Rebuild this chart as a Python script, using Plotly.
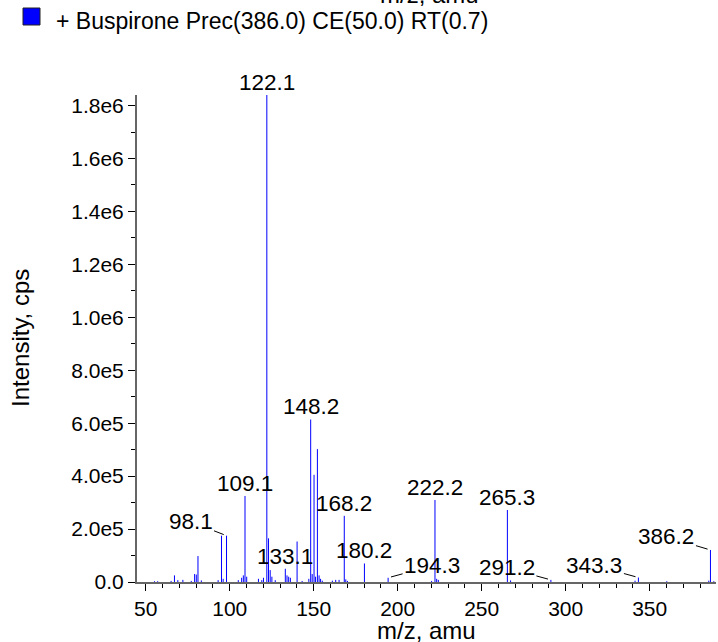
import plotly.graph_objects as go

# ---- data ----
mz = [55.2, 57.1, 65.1, 67.1, 69.1, 72.1, 77.1, 79.1, 80.1, 81.1, 83.1, 93.1,
      95.1, 96.1, 98.1, 105.1, 107.1, 108.1, 109.1, 110.1, 117.1, 119.1, 120.1,
      122.1, 123.1, 124.1, 125.1, 127.1, 133.1, 134.1, 135.1, 136.1, 140.1,
      143.1, 147.1, 148.2, 149.1, 150.2, 151.1, 152.2, 153.2, 154.1, 155.1,
      161.1, 163.1, 165.1, 168.2, 169.1, 170.1, 180.2, 194.3, 220.2, 222.2,
      223.2, 224.2, 265.3, 267.2, 291.2, 341.3, 343.3, 360.2, 385.2, 386.2, 388.2]
intensity = [3000, 3000, 4000, 25000, 7000, 8000, 4000, 30000, 28000, 98000, 6000, 7000,
             175000, 12000, 175000, 7000, 16000, 25000, 325000, 20000, 12000, 7000, 16000,
             1840000, 165000, 45000, 20000, 7000, 50000, 25000, 20000, 16000, 153000,
             4000, 12000, 614000, 30000, 405000, 20000, 502000, 25000, 12000, 5000,
             5000, 8000, 8000, 250000, 10000, 4000, 70000, 16000, 4000, 310000,
             12000, 8000, 272000, 6000, 8000, 5000, 17000, 3000, 5000, 121000, 3000]

plain_labels = [122.1, 109.1, 148.2, 168.2, 180.2, 133.1, 222.2, 265.3]
leader_labels = [98.1, 194.3, 291.2, 343.3, 386.2]

y_tickvals = [0, 2e5, 4e5, 6e5, 8e5, 1e6, 1.2e6, 1.4e6, 1.6e6, 1.8e6]
y_ticktext = ["0.0", "2.0e5", "4.0e5", "6.0e5", "8.0e5", "1.0e6", "1.2e6", "1.4e6", "1.6e6", "1.8e6"]
x_tickvals = [50, 100, 150, 200, 250, 300, 350]

legend_text = "+ Buspirone Prec(386.0) CE(50.0) RT(0.7)"
x_title = "m/z, amu"
y_title = "Intensity, cps"

# ---- layout geometry (page pixels; body margin removed via post_script) ----
W, H = 718, 642
ML, MR, MT, MB = 137, 2, 95, 60
PW, PH = W - ML - MR, H - MT - MB
FONT = "Liberation Sans, Arial, Helvetica, sans-serif"
FS_TICK = 21
FS_LAB = 22.5
FS_TXT = 23
FS_AX = 24


def px(x):  # page pixel -> paper
    return (x - ML) / PW


def py(y):
    return (H - MB - y) / PH


xs, ys = [], []
for m, v in zip(mz, intensity):
    xs += [m, m, None]
    ys += [0, v, None]

fig = go.Figure()
fig.add_trace(go.Scatter(x=xs, y=ys, mode="lines",
                         line=dict(color="#0000ff", width=1),
                         showlegend=False, hoverinfo="skip"))

lookup = dict(zip(mz, intensity))
anns = []
for m in plain_labels:
    anns.append(dict(x=m, y=lookup[m], text=f"{m:.1f}", showarrow=False,
                     xanchor="center", yanchor="bottom", yshift=-2,
                     font=dict(size=FS_LAB, color="black", family=FONT)))

leader_offsets = {98.1: (-36, -14), 194.3: (44, -12), 291.2: (-44, -12),
                  343.3: (-44, -12), 386.2: (-44, -13)}
for m in leader_labels:
    ax, ay = leader_offsets[m]
    anns.append(dict(x=m, y=lookup[m], text=f"{m:.1f}", showarrow=True,
                     arrowhead=0, arrowwidth=1, arrowcolor="black",
                     ax=ax, ay=ay, standoff=3,
                     font=dict(size=FS_LAB, color="black", family=FONT)))

# axis titles and legend
anns.append(dict(xref="paper", yref="paper", x=px(426), y=py(630), yanchor="middle",
                 text=x_title, showarrow=False,
                 font=dict(size=FS_AX, color="black", family=FONT)))
anns.append(dict(xref="paper", yref="paper", x=px(430), y=1, yanchor="bottom",
                 yshift=MT - 10, text=x_title, showarrow=False,
                 font=dict(size=FS_AX, color="black", family=FONT)))
anns.append(dict(xref="paper", yref="paper", x=px(20), y=py(338), textangle=-90,
                 text=y_title, showarrow=False, xanchor="center", yanchor="middle",
                 font=dict(size=FS_AX, color="black", family=FONT)))
anns.append(dict(xref="paper", yref="paper", x=px(54), y=py(21), xanchor="left",
                 yanchor="middle", text=legend_text, showarrow=False,
                 font=dict(size=FS_TXT, color="black", family=FONT)))

shapes = [
    dict(type="rect", xref="paper", yref="paper", x0=px(23), x1=px(40),
         y0=py(25), y1=py(8), fillcolor="#0000ff", line=dict(color="#222", width=1)),
    dict(type="path", xref="x", yref="y", xsizemode="pixel", ysizemode="pixel",
         xanchor=44.8, yanchor=0, path="M -10,-10 L 0,0 L -10,10 Z",
         fillcolor="#0000ff", line=dict(width=0)),
]

fig.update_layout(
    width=W, height=H,
    margin=dict(l=ML, r=MR, t=MT, b=MB),
    paper_bgcolor="white", plot_bgcolor="white",
    font=dict(family=FONT, size=FS_TICK, color="black"),
    showlegend=False,
    annotations=anns, shapes=shapes,
    xaxis=dict(range=[44.8, 389.5], showgrid=False, zeroline=False,
               showline=True, linecolor="#666", linewidth=2,
               tickmode="array", tickvals=x_tickvals,
               ticks="outside", ticklen=7, tickcolor="black", tickwidth=1,
               minor=dict(dtick=10, tick0=50, ticks="outside", ticklen=4, tickcolor="black"),
               tickfont=dict(size=FS_TICK, family=FONT, color="black")),
    yaxis=dict(range=[0, 1.84e6], showgrid=False, zeroline=False,
               showline=True, linecolor="#666", linewidth=2,
               tickmode="array", tickvals=y_tickvals, ticktext=y_ticktext,
               ticks="outside", ticklen=7, tickcolor="black", tickwidth=1,
               minor=dict(dtick=1e5, tick0=0, ticks="outside", ticklen=4, tickcolor="black"),
               tickfont=dict(size=FS_TICK, family=FONT, color="black")),
)

fig.write_html("out.html", config={"displayModeBar": False},
               post_script="document.body.style.margin='0';document.body.style.overflow='hidden';")
